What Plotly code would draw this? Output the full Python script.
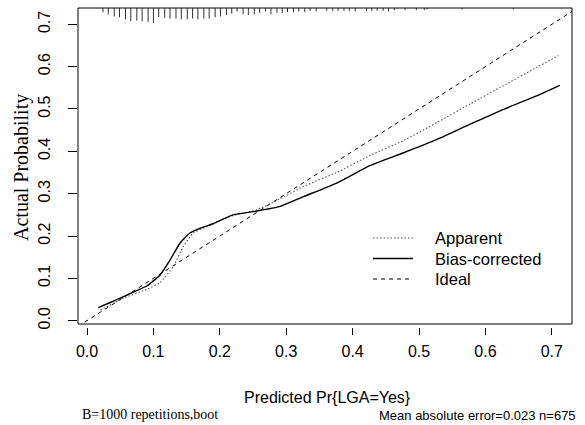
import plotly.graph_objects as go

# Calibration curves (predicted vs. actual probability)
app_x = [0.020, 0.055, 0.090, 0.110, 0.130, 0.145, 0.160, 0.180, 0.215, 0.256,
         0.280, 0.326, 0.376, 0.426, 0.476, 0.527, 0.577, 0.627, 0.677, 0.710]
app_y = [0.025, 0.053, 0.074, 0.090, 0.128, 0.175, 0.207, 0.222, 0.246, 0.262,
         0.279, 0.317, 0.350, 0.390, 0.425, 0.468, 0.512, 0.555, 0.598, 0.626]

bc_x = [0.017, 0.035, 0.055, 0.075, 0.090, 0.100, 0.110, 0.125, 0.140, 0.155,
        0.170, 0.190, 0.220, 0.256, 0.291, 0.326, 0.376, 0.426, 0.476, 0.527,
        0.577, 0.627, 0.677, 0.712]
bc_y = [0.031, 0.043, 0.057, 0.071, 0.082, 0.094, 0.108, 0.143, 0.183, 0.207,
        0.218, 0.229, 0.250, 0.259, 0.270, 0.293, 0.325, 0.366, 0.396, 0.428,
        0.464, 0.499, 0.531, 0.556]

# Spike histogram of predicted probabilities (bin centre, frequency)
rug_x = [0.024, 0.032, 0.041, 0.049, 0.058, 0.066, 0.075, 0.083, 0.092, 0.100,
         0.108, 0.117, 0.125, 0.134, 0.142, 0.151, 0.159, 0.167, 0.176, 0.184,
         0.193, 0.201, 0.210, 0.218, 0.226, 0.235, 0.243, 0.252, 0.260, 0.269,
         0.277, 0.286, 0.294, 0.302, 0.311, 0.319, 0.328, 0.336, 0.345, 0.361,
         0.370, 0.378, 0.387, 0.395, 0.404, 0.421, 0.429, 0.437, 0.446, 0.454,
         0.463, 0.479, 0.496, 0.508, 0.512, 0.565, 0.642]
rug_n = [6, 9, 12, 13, 16, 19, 18, 19, 20, 21,
         13, 14, 15, 15, 16, 16, 15, 16, 15, 15,
         13, 12, 10, 8, 5, 9, 10, 9, 7, 5,
         9, 7, 7, 6, 6, 5, 6, 4, 5, 4,
         4, 4, 4, 4, 5, 4, 4, 4, 4, 5,
         3, 3, 3, 3, 2, 2, 2]

x_ticks = [0.0, 0.1, 0.2, 0.3, 0.4, 0.5, 0.6, 0.7]
y_ticks = [0.0, 0.1, 0.2, 0.3, 0.4, 0.5, 0.6, 0.7]

X_RANGE = [-0.01355, 0.7304]
Y_RANGE = [-0.0078, 0.7385]
SPIKE_MAX = 0.035  # tallest spike, in y units

sans = "Liberation Sans, Arial, sans-serif"
serif = "Liberation Serif, Times New Roman, serif"

W, H = 585, 425
ML, MR, MT, MB = 78, 13, 8, 98

fig = go.Figure()

# ideal line (clipped to the plotting region)
fig.add_trace(go.Scatter(x=X_RANGE, y=X_RANGE, mode="lines",
                         line=dict(color="black", width=1, dash="4px,4px"),
                         showlegend=False, hoverinfo="skip"))

APP_LINE = dict(color="#555555", width=1.1, dash="1.5px,2px")
BC_LINE = dict(color="black", width=1.4)
IDEAL_LINE = dict(color="black", width=1, dash="4px,4px")

fig.add_trace(go.Scatter(x=app_x, y=app_y, mode="lines",
                         line=dict(**APP_LINE, shape="spline", smoothing=0.5),
                         showlegend=False))

fig.add_trace(go.Scatter(x=bc_x, y=bc_y, mode="lines",
                         line=dict(**BC_LINE, shape="spline", smoothing=0.5),
                         showlegend=False))

# spikes hanging from the top border
nmax = max(rug_n)
sx, sy = [], []
for xv, n in zip(rug_x, rug_n):
    sx += [xv, xv, None]
    sy += [Y_RANGE[1], Y_RANGE[1] - SPIKE_MAX * n / nmax, None]
fig.add_trace(go.Scatter(x=sx, y=sy, mode="lines",
                         line=dict(color="#333333", width=1),
                         showlegend=False, hoverinfo="skip"))

# plot box
fig.add_shape(type="rect", xref="x domain", yref="y domain",
              x0=0, x1=1, y0=0, y1=1, line=dict(color="black", width=1))


def px(xp):
    return (xp - ML) / (W - ML - MR)


def py(yp):
    return (H - MB - yp) / (H - MB - MT)


# legend drawn in the R style
leg = [("Apparent", APP_LINE), ("Bias-corrected", BC_LINE), ("Ideal", IDEAL_LINE)]
for i, (lab, ln) in enumerate(leg):
    ypx = 238 + 20.5 * i
    fig.add_shape(type="line", xref="paper", yref="paper",
                  x0=px(373), x1=px(413), y0=py(ypx), y1=py(ypx), line=ln)
    fig.add_annotation(xref="paper", yref="paper", x=px(433), y=py(ypx),
                       text=lab, showarrow=False, xanchor="left",
                       yanchor="middle",
                       font=dict(family=sans, size=16.5, color="black"))

# axis titles and footnotes
fig.add_annotation(xref="paper", yref="paper", x=px(327), y=py(397),
                   text="Predicted Pr{LGA=Yes}", showarrow=False,
                   xanchor="center", yanchor="middle",
                   font=dict(family=sans, size=16, color="black"))
fig.add_annotation(xref="paper", yref="paper", x=px(22), y=py(168),
                   text="Actual Probability", showarrow=False, textangle=-90,
                   xanchor="center", yanchor="middle",
                   font=dict(family=serif, size=20, color="black"))
fig.add_annotation(xref="paper", yref="paper", x=px(80), y=py(414),
                   text="B=1000 repetitions,boot", showarrow=False,
                   xanchor="left", yanchor="middle",
                   font=dict(family=serif, size=14, color="black"))
fig.add_annotation(xref="paper", yref="paper", x=px(578), y=py(415),
                   text="Mean absolute error=0.023 n=675", showarrow=False,
                   xanchor="right", yanchor="middle",
                   font=dict(family=sans, size=13, color="black"))

fig.update_layout(
    width=W, height=H,
    margin=dict(l=ML, r=MR, t=MT, b=MB),
    plot_bgcolor="white", paper_bgcolor="white",
    showlegend=False,
    font=dict(family=sans, color="black", size=16),
    xaxis=dict(range=X_RANGE, tickvals=x_ticks,
               ticktext=[f"{v:.1f}" for v in x_ticks],
               anchor="free", position=0,
               showgrid=False, zeroline=False, showline=False,
               ticks="outside", ticklen=7, tickwidth=1, tickcolor="black",
               tickfont=dict(family=sans, size=16, color="black"),
               ticklabelstandoff=3),
    yaxis=dict(range=Y_RANGE, domain=[3 / 319, 1], tickvals=y_ticks,
               ticktext=[f"{v:.1f}" for v in y_ticks],
               showgrid=False, zeroline=False, showline=False,
               ticks="outside", ticklen=9, tickwidth=1, tickcolor="black",
               tickangle=-90,
               tickfont=dict(family=sans, size=16, color="black"),
               ticklabelstandoff=12),
)

fig.write_html("out.html")
